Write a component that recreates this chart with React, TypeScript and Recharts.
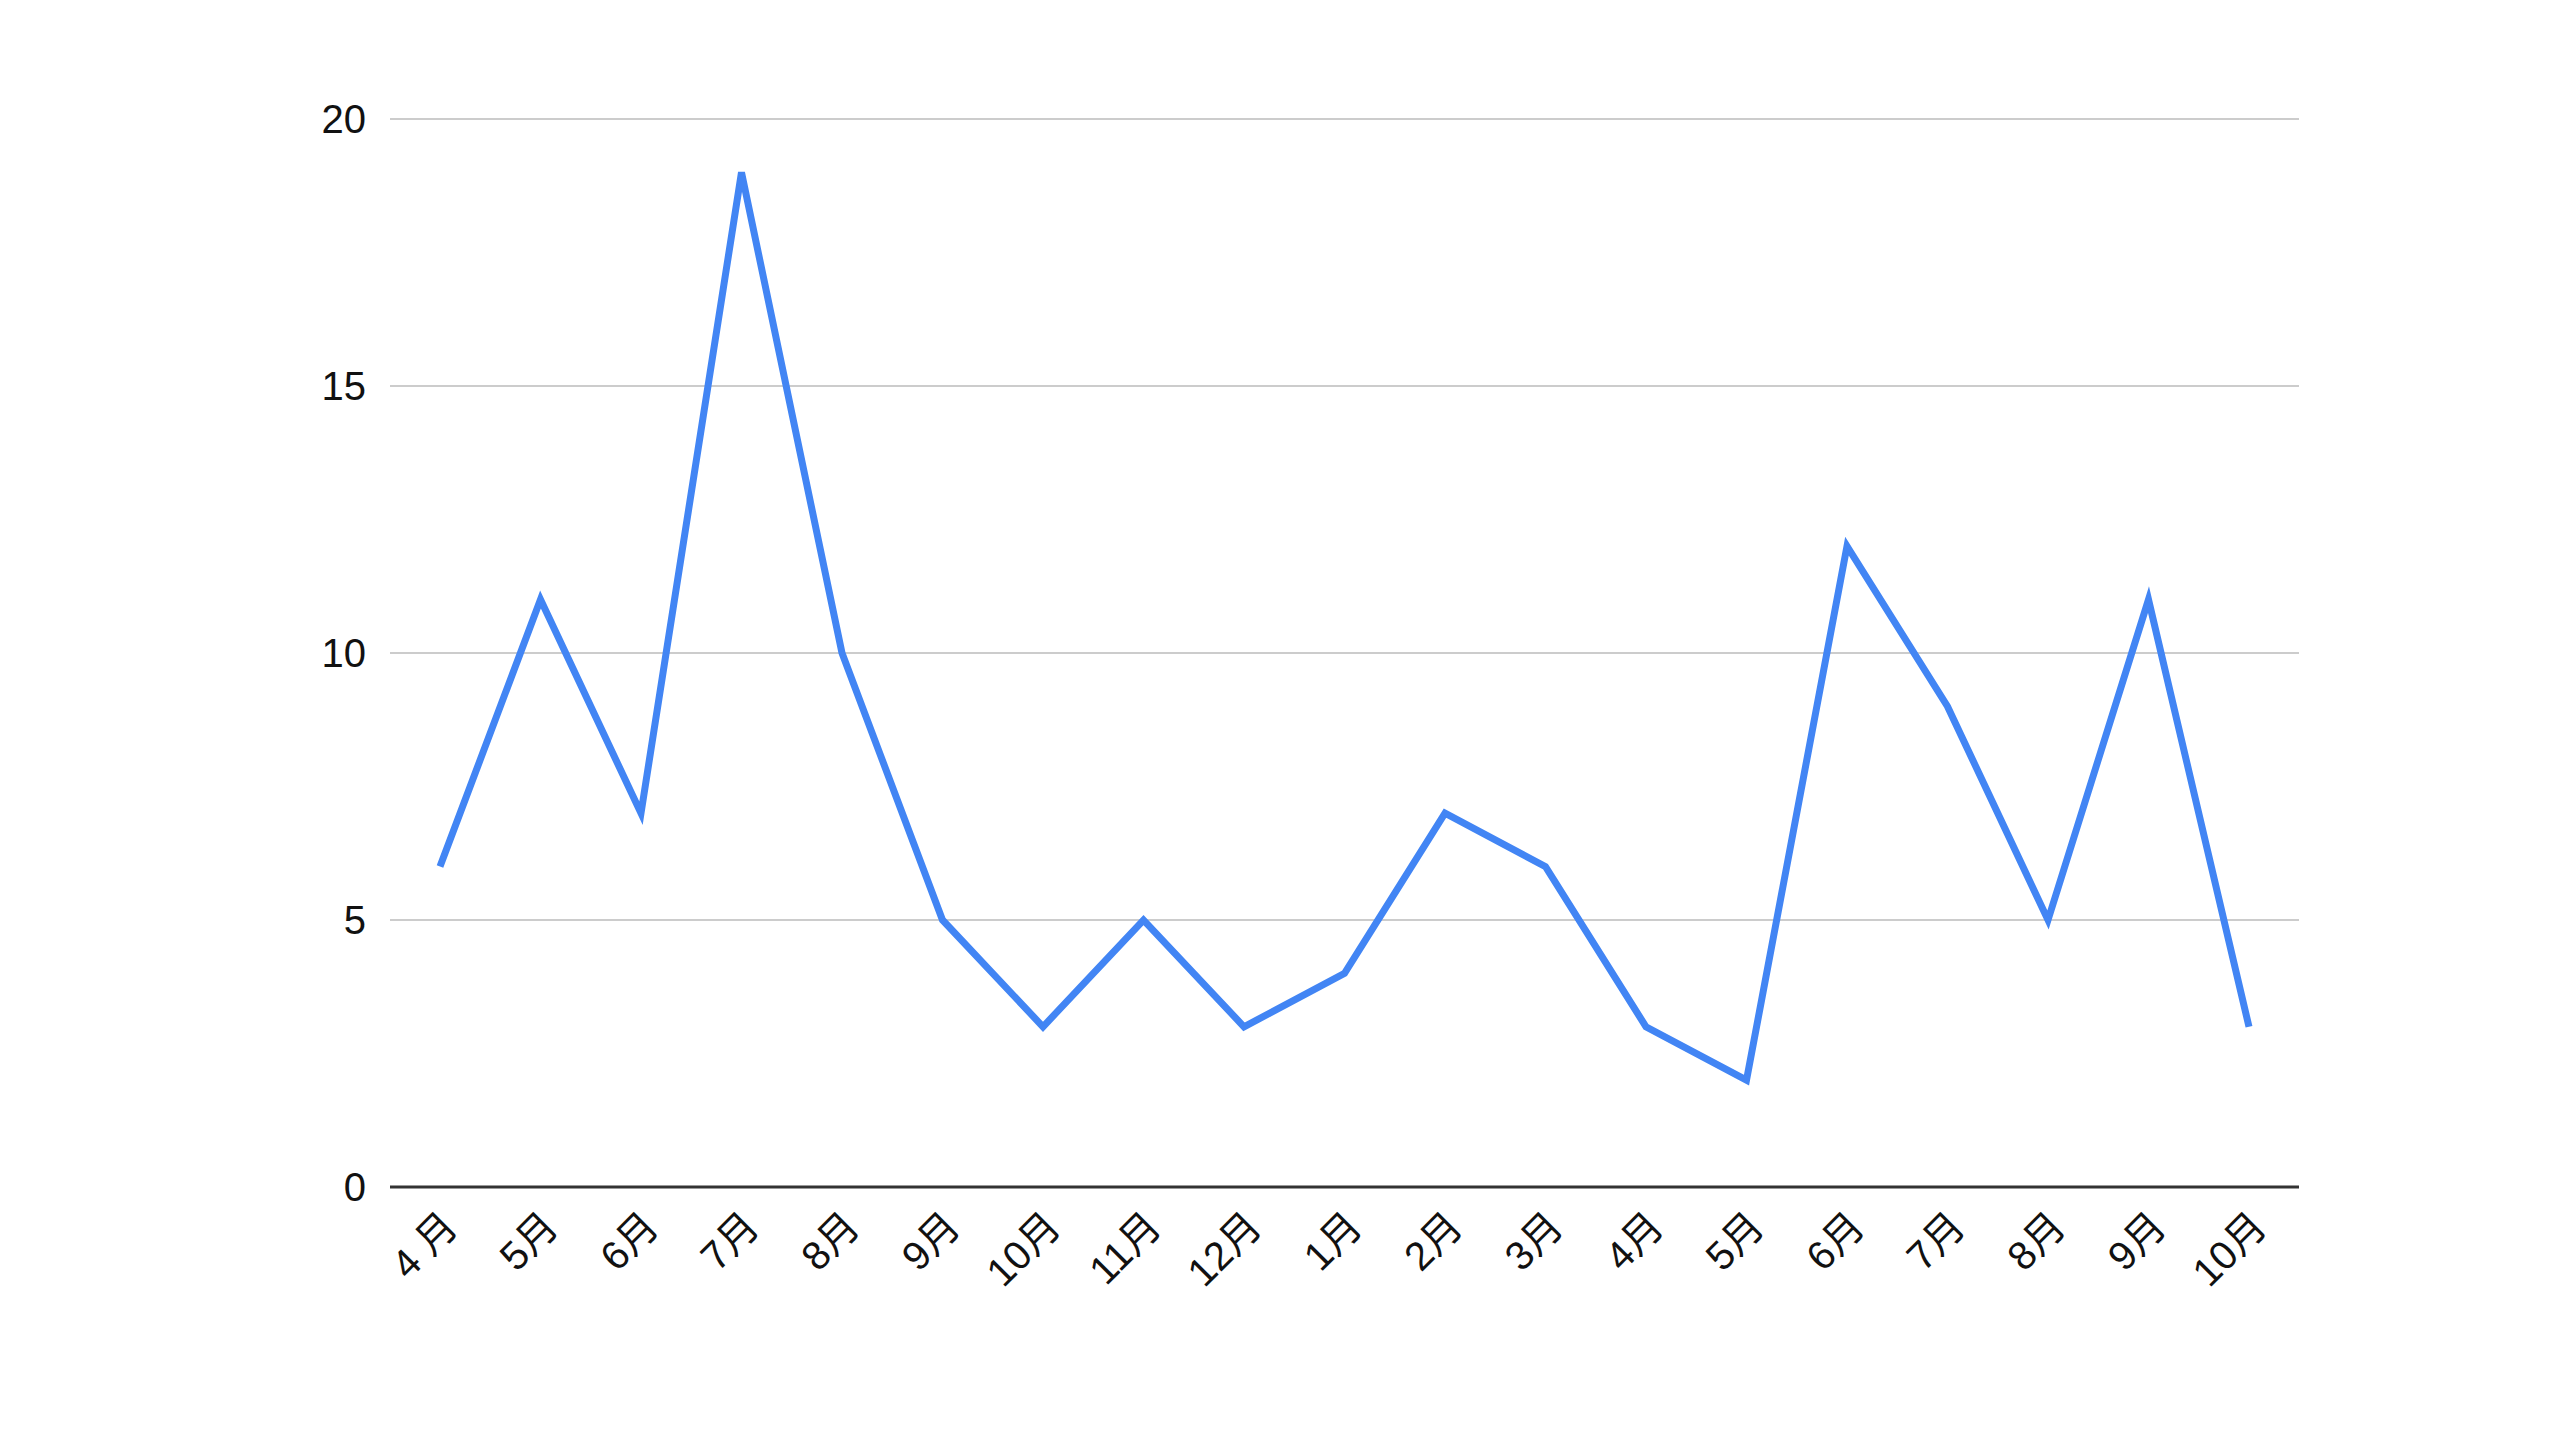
import { LineChart, Line, XAxis, YAxis, CartesianGrid } from 'recharts';

// month labels along the x axis (two years span)
const months = [
  '4 月', '5月', '6月', '7月', '8月', '9月', '10月', '11月', '12月',
  '1月', '2月', '3月', '4月', '5月', '6月', '7月', '8月', '9月', '10月',
];

const counts = [6, 11, 7, 19, 10, 5, 3, 5, 3, 4, 7, 6, 3, 2, 12, 9, 5, 11, 3];

const yTicks = [0, 5, 10, 15, 20];

const FONT = '"Liberation Sans", Arial, "Noto Sans CJK JP", sans-serif';

export default function App() {
  const data = months.map((m, i) => ({ month: m, value: counts[i] }));

  return (
    <div style={{ position: 'absolute', left: 0, top: 0, width: 2560, height: 1440, background: '#fff' }}>
      <LineChart
        width={2560}
        height={1440}
        data={data}
        margin={{ top: 119, right: 261, bottom: 0, left: 0 }}
      >
        <CartesianGrid vertical={false} stroke="#cccccc" strokeWidth={2} />
        <XAxis
          dataKey="month"
          height={253}
          padding={{ left: 50, right: 50 }}
          axisLine={{ stroke: '#333333', strokeWidth: 3 }}
          tickLine={false}
          tickSize={0}
          tickMargin={22}
          interval={0}
          angle={-45}
          textAnchor="end"
          tick={{ fill: '#111111', fontSize: 40, fontFamily: FONT }}
        />
        <YAxis
          width={390}
          domain={[0, 20]}
          ticks={yTicks}
          axisLine={false}
          tickLine={false}
          tickSize={0}
          tickMargin={24}
          tick={{ fill: '#111111', fontSize: 40, fontFamily: FONT }}
        />
        <Line
          type="linear"
          dataKey="value"
          stroke="#4285f4"
          strokeWidth={7}
          strokeLinejoin="miter"
          dot={false}
          activeDot={false}
          isAnimationActive={false}
        />
      </LineChart>
    </div>
  );
}
